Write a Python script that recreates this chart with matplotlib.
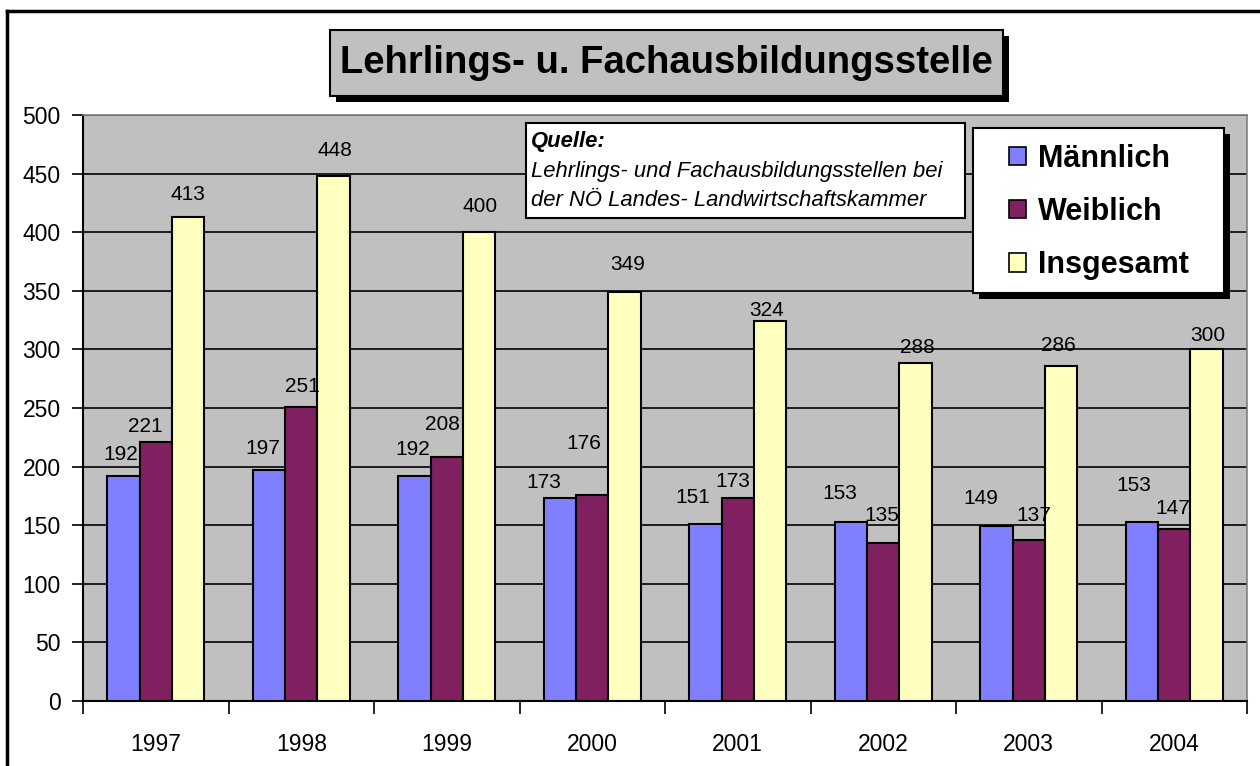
#!/usr/bin/env python3
import matplotlib
matplotlib.use("Agg")
import matplotlib.pyplot as plt
import numpy as np
from matplotlib.patches import Patch, Rectangle

years = ["1997", "1998", "1999", "2000", "2001", "2002", "2003", "2004"]
maennlich = [192, 197, 192, 173, 151, 153, 149, 153]
weiblich = [221, 251, 208, 176, 173, 135, 137, 147]
insgesamt = [413, 448, 400, 349, 324, 288, 286, 300]
series_names = ["Männlich", "Weiblich", "Insgesamt"]

# label offsets (pixels, dx/dy from bar top centre), mimicking Excel's placement
off_m = [(-3, 19), (-6, 20), (-2, 24), (-16, 14), (-13, 25), (-11, 26), (-16, 26), (-8, 34)]
off_w = [(-10, 13), (1, 18), (-4, 31), (-8, 49), (-5, 15), (-1, 25), (5, 23), (-1, 18)]
off_i = [(0, 20), (1, 23), (1, 24), (3, 25), (-3, 9), (2, 14), (-3, 18), (1, 12)]

colors = ["#8080FF", "#802060", "#FFFFC0"]
W, H = 1260, 766

plt.rcParams["font.family"] = ["Liberation Sans", "DejaVu Sans"]


def px_rect(fig, x0, y0, x1, y1, **kw):
    r = Rectangle((x0 / W, 1 - y1 / H), (x1 - x0) / W, (y1 - y0) / H,
                  transform=fig.transFigure, **kw)
    fig.add_artist(r)
    return r


fig = plt.figure(figsize=(W / 100, H / 100), dpi=100)
ax = fig.add_axes([83 / W, 1 - 701 / H, (1247 - 83) / W, (701 - 115) / H])
ax.set_facecolor("#C0C0C0")

x = np.arange(len(years))
bw = 1 / 4.5
for i, (vals, offs) in enumerate(zip([maennlich, weiblich, insgesamt], [off_m, off_w, off_i])):
    xs = x + (i - 1) * bw
    ax.bar(xs, vals, width=bw, color=colors[i], edgecolor="black", linewidth=1.5, zorder=3)
    for xi, v, (dx, dy) in zip(xs, vals, offs):
        ax.annotate(str(v), xy=(xi, v), xytext=(dx, dy + 2), textcoords="offset pixels",
                    ha="center", va="center", fontsize=15, zorder=5)

ax.set_xlim(-0.5, len(years) - 0.5)
ax.set_ylim(0, 500)
ax.set_yticks(np.arange(0, 501, 50))
ax.yaxis.grid(True, color="black", linewidth=1.2, zorder=1)
ax.set_axisbelow(True)
ax.tick_params(axis="y", direction="out", length=8, width=1.2, labelsize=16.5, pad=8)

ax.set_xticks(x)
ax.set_xticklabels(years)
ax.tick_params(axis="x", which="major", length=0, labelsize=16.5, pad=23)
ax.set_xticks(np.arange(-0.5, len(years), 1), minor=True)
ax.tick_params(axis="x", which="minor", direction="out", length=9, width=1.2)

for s in ["left", "bottom"]:
    ax.spines[s].set_color("black")
    ax.spines[s].set_linewidth(1.5)
for s in ["top", "right"]:
    ax.spines[s].set_color("#808080")
    ax.spines[s].set_linewidth(1.2)

# outer chart border (top and left visible)
fig.add_artist(plt.Line2D([7 / W, 7 / W], [0, 1 - 11 / H], transform=fig.transFigure,
                          color="black", linewidth=2.5))
fig.add_artist(plt.Line2D([7 / W, 1], [1 - 11 / H, 1 - 11 / H], transform=fig.transFigure,
                          color="black", linewidth=2.5))

# title box with shadow
px_rect(fig, 336, 36, 1009, 102, facecolor="black", edgecolor="none", zorder=4)
px_rect(fig, 330, 30, 1003, 96, facecolor="#C0C0C0", edgecolor="black", linewidth=1.5, zorder=5)
fig.text(666 / W, 1 - 63 / H, "Lehrlings- u. Fachausbildungsstelle", ha="center", va="center",
         fontsize=27.5, fontweight="bold", zorder=6)

# source box
px_rect(fig, 526, 123, 965, 218, facecolor="white", edgecolor="black", linewidth=1.5, zorder=4)
fig.text(531 / W, 1 - 142 / H, "Quelle:", ha="left", va="center", fontsize=15.8,
         fontweight="bold", fontstyle="italic", zorder=6)
fig.text(531 / W, 1 - 171 / H, "Lehrlings- und Fachausbildungsstellen bei", ha="left",
         va="center", fontsize=15.8, fontstyle="italic", zorder=6)
fig.text(531 / W, 1 - 201 / H, "der NÖ Landes- Landwirtschaftskammer", ha="left",
         va="center", fontsize=15.8, fontstyle="italic", zorder=6)

# legend box with shadow
px_rect(fig, 979, 134, 1230, 299, facecolor="black", edgecolor="none", zorder=4)
px_rect(fig, 973, 128, 1224, 293, facecolor="white", edgecolor="black", linewidth=1.5, zorder=5)
handles = [Patch(facecolor=c, edgecolor="black", linewidth=1.2) for c in colors]
leg = fig.legend(handles, series_names, loc="center left",
                 bbox_to_anchor=(1009 / W, 1 - 212 / H), frameon=False,
                 prop={"size": 22, "weight": "bold"}, handlelength=0.55, handleheight=0.55,
                 handletextpad=0.4, labelspacing=0.76, borderpad=0, borderaxespad=0)
leg.set_zorder(7)

fig.savefig("out.png", dpi=100)
